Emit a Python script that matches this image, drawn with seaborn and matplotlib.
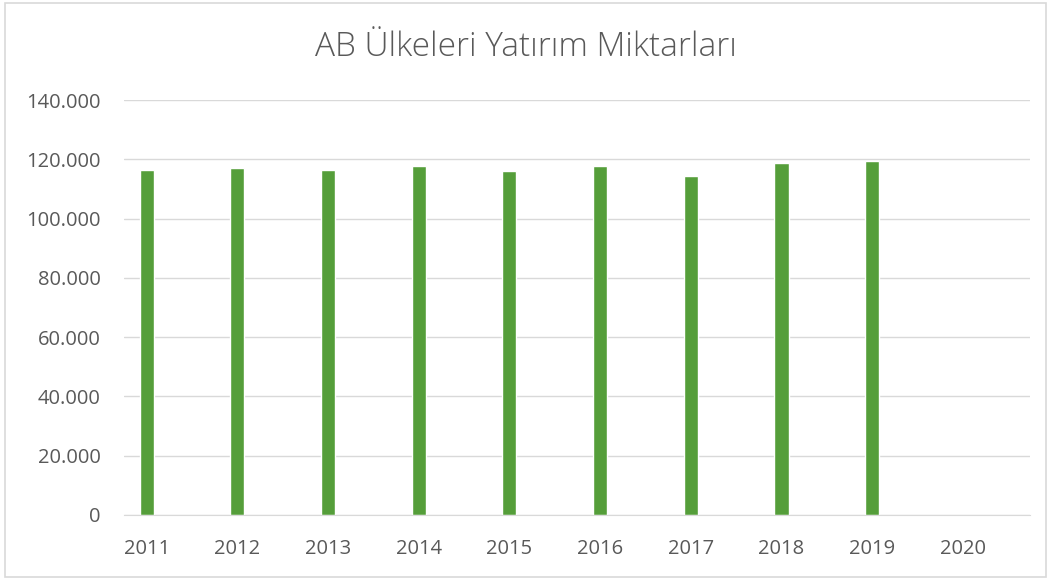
import numpy as np
import pandas as pd
import matplotlib
matplotlib.use("Agg")
import matplotlib.pyplot as plt
import seaborn as sns
from matplotlib.patches import Rectangle
from matplotlib.ticker import FuncFormatter, MultipleLocator

years = ["2011", "2012", "2013", "2014", "2015", "2016", "2017", "2018", "2019", "2020"]
amounts = [116300, 117200, 116400, 117750, 115970, 117650, 114500, 118770, 119440, np.nan]

df = pd.DataFrame({"year": years, "amount": amounts})

sns.set_style("white")
plt.rcParams["font.family"] = ["Open Sans", "DejaVu Sans"]

fig = plt.figure(figsize=(10.51, 5.81), dpi=100)
ax = fig.add_axes([124 / 1051, 66 / 581, 906 / 1051, 415 / 581])

sns.barplot(data=df, x="year", y="amount", order=years, color="#559E3A",
            saturation=1, width=0.155, ax=ax)

ax.set_xlim(-0.25, 9.74)
ax.set_ylim(0, 140000)
ax.yaxis.set_major_locator(MultipleLocator(20000))
ax.yaxis.set_major_formatter(FuncFormatter(lambda v, p: f"{int(v):,}".replace(",", ".")))
ax.grid(axis="y", color="#d9d9d9", linewidth=1)
ax.set_axisbelow(True)
for s in ["top", "right", "left"]:
    ax.spines[s].set_visible(False)
ax.spines["bottom"].set_color("#d9d9d9")
ax.tick_params(length=0, labelsize=14.5, labelcolor="#595959")
ax.tick_params(axis="x", pad=17)
ax.tick_params(axis="y", pad=17)
ax.set_xlabel("")
ax.set_ylabel("")

fig.text(0.5, 1 - 47 / 581, "AB Ülkeleri Yatırım Miktarları", ha="center", va="center",
         fontsize=24, color="#595959", fontweight="light")

fig.patches.append(Rectangle((5 / 1051, 4 / 581), 1041 / 1051, 574 / 581,
                             transform=fig.transFigure, fill=False,
                             edgecolor="#d9d9d9", linewidth=1.2))

fig.savefig("out.png", dpi=100)
